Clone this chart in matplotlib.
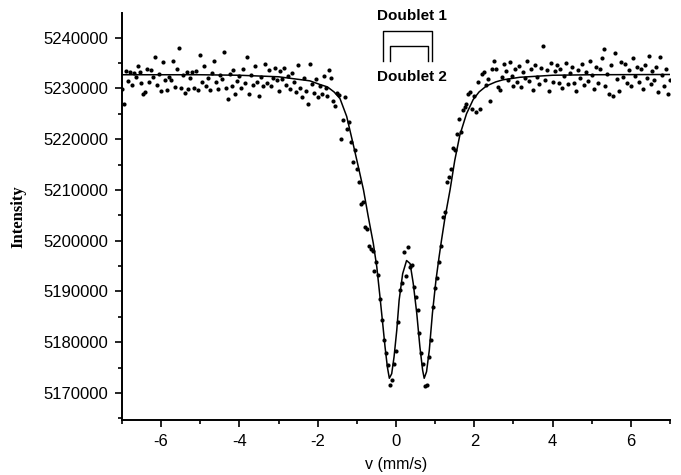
import matplotlib
matplotlib.use("Agg")
import matplotlib.pyplot as plt
from matplotlib.ticker import MultipleLocator

# ---------------- data ----------------
vel = [
 -7.00,-6.95,-6.90,-6.85,-6.80,-6.75,-6.70,-6.65,-6.60,-6.55,
 -6.50,-6.45,-6.40,-6.35,-6.30,-6.25,-6.20,-6.15,-6.10,-6.05,
 -6.00,-5.95,-5.90,-5.85,-5.80,-5.75,-5.70,-5.65,-5.60,-5.55,
 -5.50,-5.45,-5.40,-5.35,-5.30,-5.25,-5.20,-5.15,-5.10,-5.05,
 -5.00,-4.95,-4.90,-4.85,-4.80,-4.75,-4.70,-4.65,-4.60,-4.55,
 -4.50,-4.45,-4.40,-4.35,-4.30,-4.25,-4.20,-4.15,-4.10,-4.05,
 -4.00,-3.95,-3.90,-3.85,-3.80,-3.75,-3.70,-3.65,-3.60,-3.55,
 -3.50,-3.45,-3.40,-3.35,-3.30,-3.25,-3.20,-3.15,-3.10,-3.05,
 -3.00,-2.95,-2.90,-2.85,-2.80,-2.75,-2.70,-2.65,-2.60,-2.55,
 -2.50,-2.45,-2.40,-2.35,-2.30,-2.25,-2.20,-2.15,-2.10,-2.05,
 -2.00,-1.95,-1.90,-1.85,-1.80,-1.75,-1.70,-1.65,-1.60,-1.55,
 -1.50,-1.45,-1.40,-1.35,-1.30,-1.25,-1.20,-1.15,-1.10,-1.05,
 -1.00,-0.95,-0.90,-0.85,-0.80,-0.75,-0.70,-0.65,-0.60,-0.55,
 -0.50,-0.45,-0.40,-0.35,-0.30,-0.25,-0.20,-0.15,-0.10,-0.05,
  0.00, 0.05, 0.10, 0.15, 0.20, 0.25, 0.30, 0.35, 0.40, 0.45,
  0.50, 0.55, 0.60, 0.65, 0.70, 0.75, 0.80, 0.85, 0.90, 0.95,
  1.00, 1.05, 1.10, 1.15, 1.20, 1.25, 1.30, 1.35, 1.40, 1.45,
  1.50, 1.55, 1.60, 1.65, 1.70, 1.75, 1.80, 1.85, 1.90, 1.95,
  2.00, 2.05, 2.10, 2.15, 2.20, 2.25, 2.30, 2.35, 2.40, 2.45,
  2.50, 2.55, 2.60, 2.65, 2.70, 2.75, 2.80, 2.85, 2.90, 2.95,
  3.00, 3.05, 3.10, 3.15, 3.20, 3.25, 3.30, 3.35, 3.40, 3.45,
  3.50, 3.55, 3.60, 3.65, 3.70, 3.75, 3.80, 3.85, 3.90, 3.95,
  4.00, 4.05, 4.10, 4.15, 4.20, 4.25, 4.30, 4.35, 4.40, 4.45,
  4.50, 4.55, 4.60, 4.65, 4.70, 4.75, 4.80, 4.85, 4.90, 4.95,
  5.00, 5.05, 5.10, 5.15, 5.20, 5.25, 5.30, 5.35, 5.40, 5.45,
  5.50, 5.55, 5.60, 5.65, 5.70, 5.75, 5.80, 5.85, 5.90, 5.95,
  6.00, 6.05, 6.10, 6.15, 6.20, 6.25, 6.30, 6.35, 6.40, 6.45,
  6.50, 6.55, 6.60, 6.65, 6.70, 6.75, 6.80, 6.85, 6.90, 6.95,
  7.00]

counts = [
 5229800,5227000,5233400,5231500,5233200,5230600,5233000,5232200,5234500,5233300,
 5231000,5229000,5229300,5233900,5231300,5233700,5232300,5236100,5230700,5232800,
 5229500,5235300,5231600,5229600,5232300,5231700,5235400,5230300,5233800,5237900,
 5230000,5232700,5229200,5233300,5229800,5232100,5233200,5230000,5233500,5229600,
 5236500,5231200,5234400,5230400,5232000,5229600,5233000,5235400,5231300,5229900,
 5232600,5231800,5237200,5230100,5227900,5232800,5230500,5233700,5228900,5231400,
 5232500,5230000,5233800,5231000,5236200,5229000,5232700,5230700,5234500,5231300,
 5228600,5232200,5230400,5234800,5231000,5233700,5230500,5232100,5234000,5231600,
 5229500,5233400,5231800,5234100,5230700,5232500,5229800,5233000,5231200,5229300,
 5234700,5230000,5228400,5232000,5229400,5227000,5234900,5230800,5229200,5231900,
 5228300,5230500,5229000,5232400,5230000,5228500,5233700,5232000,5227600,5226600,
 5229100,5228800,5220100,5223700,5228300,5222000,5223300,5219500,5215600,5217800,
 5214100,5211600,5207200,5207600,5202800,5202400,5199000,5198400,5198000,5194000,
 5195800,5193300,5188500,5184300,5180400,5177800,5175500,5171500,5172600,5175700,
 5178200,5184000,5190200,5191700,5197700,5193000,5198700,5194800,5195300,5190900,
 5188900,5186300,5181800,5177800,5175800,5171300,5171500,5177100,5180500,5187000,
 5190600,5192700,5195800,5199000,5204600,5205700,5211500,5212500,5214200,5218300,
 5217800,5221100,5224000,5221400,5225700,5226300,5227000,5229000,5229300,5225900,
 5228600,5225300,5231200,5226000,5232900,5233200,5230600,5231800,5227600,5233900,
 5235500,5233800,5230300,5229700,5232300,5234900,5233500,5231600,5235200,5232400,
 5230500,5233900,5231200,5234500,5230300,5233300,5232000,5235400,5231500,5233800,
 5229600,5234600,5232200,5230900,5234100,5238300,5231700,5233600,5229500,5235000,
 5231300,5233400,5234600,5231100,5233900,5230000,5232400,5235100,5230900,5233000,
 5234300,5231000,5229500,5233700,5232100,5234900,5230600,5233200,5231500,5235500,
 5232600,5229800,5234200,5231100,5233900,5236000,5237700,5230400,5232800,5229000,
 5234700,5228600,5237000,5231900,5229500,5235300,5232300,5234800,5231000,5233600,
 5230500,5236000,5232500,5234200,5231300,5233800,5229800,5234600,5232000,5236400,
 5230800,5233400,5231700,5234200,5229300,5236100,5232600,5230500,5233800,5228900,
 5231600]

# fitted curve
fit_v = [-7.0, -5.0, -4.0, -3.0, -2.6, -2.2, -1.95, -1.75, -1.58, -1.43,
         -1.26, -1.09, -0.96, -0.83, -0.71, -0.58, -0.49, -0.41, -0.34, -0.28,
         -0.22, -0.17, -0.11, -0.05, 0.02, 0.08, 0.17, 0.27, 0.36, 0.44,
         0.53, 0.61, 0.68, 0.72, 0.78, 0.85, 0.93, 1.02, 1.10, 1.16,
         1.25, 1.38, 1.50, 1.63, 1.80, 1.97, 2.12, 2.31, 2.55, 2.73,
         3.16, 4.0, 5.0, 7.0]
fit_i = [5232700, 5232700, 5232600, 5232300, 5231900, 5231500, 5230800, 5230300, 5229300, 5228000,
         5224500, 5218900, 5214500, 5210000, 5204800, 5199500, 5194800, 5189000, 5183700, 5179100,
         5175100, 5172900, 5173800, 5177100, 5182400, 5188300, 5193500, 5196100, 5195500, 5191600,
         5185700, 5179100, 5174500, 5172900, 5174200, 5178400, 5185700, 5192200, 5196800, 5200000,
         5204500, 5210000, 5215800, 5220800, 5225000, 5227800, 5229300, 5230500, 5231300, 5231700,
         5232200, 5232600, 5232700, 5232750]

# doublet line positions (bracket annotation)
doublet1 = (-0.33, 0.92)
doublet2 = (-0.15, 0.82)

xticks = [-6, -4, -2, 0, 2, 4, 6]
yticks = [5170000, 5180000, 5190000, 5200000, 5210000, 5220000, 5230000, 5240000]

# ---------------- figure ----------------
fig = plt.figure(figsize=(6.81, 4.75), dpi=100)
ax = fig.add_axes([0.179, 0.116, 0.805, 0.857])

ax.scatter(vel, counts, s=9, color="black", linewidths=0, zorder=3)
ax.plot(fit_v, fit_i, color="black", lw=1.1, zorder=2)

ax.set_xlim(-7, 7)
ax.set_ylim(5164700, 5244900)
ax.set_xticks(xticks)
ax.set_yticks(yticks)
ax.set_xticklabels([str(t) for t in xticks], family="Liberation Sans", fontsize=12)
ax.set_yticklabels([str(t) for t in yticks], family="Liberation Sans", fontsize=12)
ax.xaxis.set_minor_locator(MultipleLocator(1))
ax.yaxis.set_minor_locator(MultipleLocator(5000))
ax.tick_params(which="major", length=5, width=1.2, direction="out", pad=5)
ax.tick_params(which="minor", length=3, width=1.2, direction="out")

for side in ("top", "right"):
    ax.spines[side].set_visible(False)
for side in ("left", "bottom"):
    ax.spines[side].set_linewidth(1.4)

ax.set_xlabel("v (mm/s)", family="Liberation Sans", fontsize=11.5, labelpad=6)
ax.set_ylabel("Intensity", family="Liberation Serif", fontweight="bold", fontsize=12, labelpad=12)

# doublet brackets
leg_bottom = 5235400
top1 = 5241300
top2 = 5238300
ax.plot([doublet1[0], doublet1[0], doublet1[1], doublet1[1]],
        [leg_bottom, top1, top1, leg_bottom], color="black", lw=1.0, clip_on=False)
ax.plot([doublet2[0], doublet2[0], doublet2[1], doublet2[1]],
        [leg_bottom, top2, top2, leg_bottom], color="black", lw=1.0, clip_on=False)
ax.text(sum(doublet1) / 2 + 0.1, 5244200, "Doublet 1", ha="center", va="center",
        family="Liberation Sans", fontweight="bold", fontsize=11, clip_on=False)
ax.text(sum(doublet2) / 2 + 0.08, 5232200, "Doublet 2", ha="center", va="center",
        family="Liberation Sans", fontweight="bold", fontsize=11, clip_on=False)

fig.savefig("out.png", dpi=100)
